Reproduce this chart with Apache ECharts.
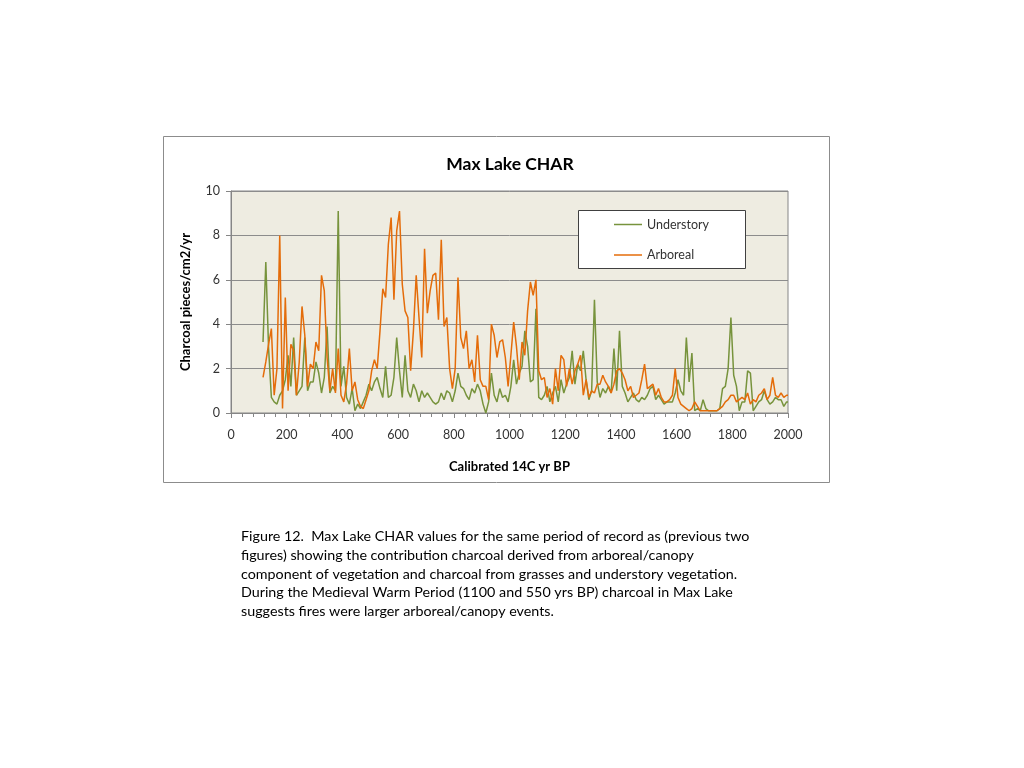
<!DOCTYPE html>
<html>
<head>
<meta charset="utf-8">
<title>Max Lake CHAR</title>
<script src="https://cdn.jsdelivr.net/npm/echarts@6/dist/echarts.min.js"></script>
<style>
  html, body { margin: 0; padding: 0; background: #fff; }
  #chart { width: 1024px; height: 768px; }
</style>
</head>
<body>
<div id="chart"></div>
<script>
// years BP, one sample every 10 yr, last point at 2000
var years = [];
for (var y = 115; y <= 1995; y += 10) years.push(y);
years.push(2000);

// understory charcoal (green)
var understory = [
  3.2, 6.8, 2.9, 0.7, 0.5, 0.4, 0.8, 1.0, 1.5, 2.6,
  1.2, 3.4, 0.8, 1.0, 1.2, 3.4, 1.0, 1.4, 1.4, 2.3,
  1.8, 0.9, 1.6, 3.9, 0.9, 1.2, 1.0, 9.1, 1.2, 2.1,
  0.7, 0.4, 1.1, 0.1, 0.4, 0.2, 0.5, 0.8, 1.3, 1.0,
  1.4, 1.6, 1.1, 0.7, 2.1, 0.7, 0.8, 1.6, 3.4, 1.9,
  0.7, 2.6, 1.0, 0.7, 1.3, 1.0, 0.5, 1.0, 0.7, 0.9,
  0.7, 0.5, 0.4, 0.5, 0.9, 0.6, 1.0, 0.9, 0.5, 1.0,
  1.8, 1.2, 1.1, 0.8, 0.6, 1.1, 0.9, 1.3, 1.0, 0.4,
  0.0, 0.5, 1.8, 0.8, 0.5, 1.1, 0.7, 0.8, 0.5, 1.2,
  2.4, 1.3, 1.8, 2.1, 3.7, 3.0, 1.4, 1.5, 4.7, 0.7,
  0.6, 0.8, 1.2, 0.5, 0.9, 1.2, 0.5, 1.5, 0.9, 1.3,
  1.6, 2.8, 1.3, 2.2, 1.9, 2.8, 1.5, 0.6, 1.0, 5.1,
  1.4, 0.7, 1.1, 0.9, 1.2, 0.9, 2.9, 1.0, 3.7, 1.2,
  0.9, 0.5, 0.7, 0.9, 0.6, 0.5, 0.7, 0.6, 0.8, 1.1,
  1.2, 0.6, 0.8, 0.6, 0.4, 0.5, 0.5, 0.5, 0.9, 1.5,
  1.0, 0.8, 3.4, 1.4, 2.7, 0.1, 0.2, 0.1, 0.6, 0.2,
  0.1, 0.1, 0.1, 0.1, 0.2, 1.1, 1.2, 2.0, 4.3, 1.7,
  1.2, 0.1, 0.5, 0.5, 1.9, 1.8, 0.1, 0.3, 0.5, 0.6,
  1.0, 0.6, 0.4, 0.5, 0.7, 0.6, 0.6, 0.3, 0.5, 0.5
];

// arboreal charcoal (orange)
var arboreal = [
  1.6, 2.3, 3.1, 3.8, 0.8, 2.0, 8.0, 0.2, 5.2, 1.0,
  3.1, 2.8, 0.8, 2.3, 4.8, 3.5, 1.2, 2.2, 2.0, 3.2,
  2.8, 6.2, 5.5, 2.5, 1.0, 2.0, 0.9, 2.9, 0.8, 0.5,
  1.3, 2.9, 1.0, 1.4, 0.6, 0.3, 0.2, 0.6, 1.0, 1.9,
  2.4, 2.0, 3.7, 5.6, 5.2, 7.6, 8.8, 5.1, 8.2, 9.1,
  5.8, 4.6, 4.3, 1.9, 3.7, 6.2, 4.3, 2.5, 7.4, 4.5,
  5.5, 6.2, 6.3, 4.2, 7.8, 3.9, 4.3, 2.0, 1.1, 2.0,
  6.1, 3.4, 2.9, 3.7, 2.0, 2.4, 1.4, 3.5, 1.5, 1.2,
  1.2, 0.6, 4.0, 3.5, 2.5, 3.2, 3.3, 2.5, 1.2, 2.6,
  4.1, 3.0, 1.5, 3.2, 2.6, 4.6, 5.9, 5.3, 6.0, 1.9,
  1.5, 1.6, 0.7, 1.1, 0.4, 2.0, 1.0, 2.6, 2.4, 1.2,
  2.0, 1.3, 1.9, 2.2, 2.6, 0.8, 1.5, 0.7, 1.0, 0.9,
  1.3, 1.3, 1.7, 1.4, 1.2, 0.9, 1.3, 1.9, 2.0, 1.8,
  1.5, 1.0, 1.2, 0.7, 0.8, 0.9, 1.5, 2.2, 1.1, 1.2,
  1.3, 0.8, 1.1, 0.7, 0.5, 0.5, 0.6, 0.8, 2.0, 0.7,
  0.4, 0.3, 0.2, 0.1, 0.2, 0.5, 0.3, 0.1, 0.1, 0.1,
  0.1, 0.1, 0.1, 0.1, 0.2, 0.3, 0.5, 0.6, 0.8, 0.8,
  0.5, 0.6, 0.7, 0.6, 0.9, 0.4, 0.6, 0.5, 0.8, 0.9,
  1.1, 0.6, 0.8, 1.6, 0.8, 0.7, 0.9, 0.7, 0.8, 0.8
];

var xTicks = [0, 200, 400, 600, 800, 1000, 1200, 1400, 1600, 1800, 2000];
var yTicks = [0, 2, 4, 6, 8, 10];

var caption = [
  'Figure 12.  Max Lake CHAR values for the same period of record as (previous two',
  'figures) showing the contribution charcoal derived from arboreal/canopy',
  'component of vegetation and charcoal from grasses and understory vegetation.',
  'During the Medieval Warm Period (1100 and 550 yrs BP) charcoal in Max Lake',
  'suggests fires were larger arboreal/canopy events.'
];

var font = 'Lato, "Open Sans", sans-serif';

function pairs(vals) {
  return years.map(function (yr, i) { return [yr, vals[i]]; });
}

var chart = echarts.init(document.getElementById('chart'));
chart.setOption({
  animation: false,
  backgroundColor: '#ffffff',
  textStyle: { fontFamily: font },
  title: {
    text: 'Max Lake CHAR',
    left: 505, top: 150,
    textAlign: 'center',
    textStyle: { fontSize: 17.5, fontWeight: 'bold', color: '#000', fontFamily: font }
  },
  grid: {
    left: 231, top: 191, right: 236, bottom: 355,
    show: true,
    backgroundColor: '#EEECE1',
    borderColor: '#868686',
    borderWidth: 1
  },
  legend: {
    orient: 'vertical',
    left: 609, top: 213,
    icon: 'rect',
    itemWidth: 28, itemHeight: 1.5,
    itemGap: 17.5,
    textStyle: { fontSize: 12.5, color: '#333', fontFamily: font },
    data: ['Understory', 'Arboreal'],
    z: 10
  },
  xAxis: {
    type: 'value',
    min: xTicks[0], max: xTicks[xTicks.length - 1], interval: 200,
    name: 'Calibrated 14C yr BP',
    nameLocation: 'middle', nameGap: 47,
    nameTextStyle: { fontSize: 13, fontWeight: 'bold', color: '#000' },
    axisLine: { lineStyle: { color: '#868686' } },
    axisTick: { show: true, inside: false, length: 5, lineStyle: { color: '#868686' } },
    minorTick: { show: true, splitNumber: 5, length: 4, lineStyle: { color: '#868686' } },
    axisLabel: {
      fontSize: 12.5, color: '#333', margin: 15,
      formatter: function (v) { return String(v); }
    },
    splitLine: { show: false }
  },
  yAxis: {
    type: 'value',
    min: yTicks[0], max: yTicks[yTicks.length - 1], interval: 2,
    name: 'Charcoal pieces/cm2/yr',
    nameLocation: 'middle', nameGap: 39, nameRotate: 90,
    nameTextStyle: { fontSize: 13, fontWeight: 'bold', color: '#000' },
    axisLine: { show: true, lineStyle: { color: '#868686' } },
    axisTick: { show: true, inside: false, length: 5, lineStyle: { color: '#868686' } },
    axisLabel: { fontSize: 12.5, color: '#333', margin: 11 },
    splitLine: { show: true, lineStyle: { color: '#8c8c8c', width: 1 } }
  },
  series: [
    {
      name: 'Understory', type: 'line',
      data: pairs(understory),
      symbol: 'none',
      lineStyle: { color: '#77933C', width: 1.5 },
      itemStyle: { color: '#77933C' }
    },
    {
      name: 'Arboreal', type: 'line',
      data: pairs(arboreal),
      symbol: 'none',
      lineStyle: { color: '#E46C0A', width: 1.5 },
      itemStyle: { color: '#E46C0A' }
    }
  ],
  graphic: [
    {
      type: 'rect', z: 0, silent: true,
      shape: { x: 163.5, y: 136.5, width: 666, height: 346 },
      style: { fill: 'none', stroke: '#8c8c8c', lineWidth: 1 }
    },
    {
      type: 'rect', z: 5, silent: true,
      shape: { x: 578.5, y: 210.5, width: 167, height: 58 },
      style: { fill: '#ffffff', stroke: '#404040', lineWidth: 1 }
    },
    {
      type: 'text', left: 241, top: 527, silent: true,
      style: {
        text: caption.join('\n'),
        fontSize: 14.3, lineHeight: 18.8,
        fontFamily: font, fill: '#000'
      }
    }
  ]
});
</script>
</body>
</html>
